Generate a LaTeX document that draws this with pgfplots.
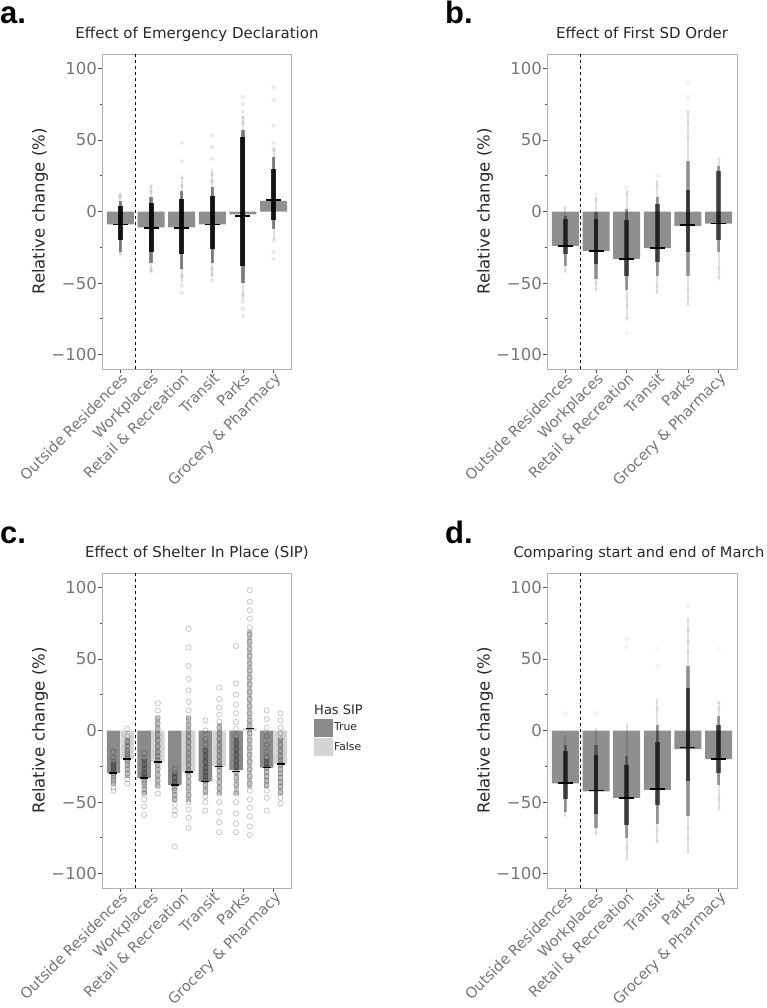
\documentclass[border=0pt]{standalone}
\usepackage{fontspec}
\setmainfont{DejaVu Sans}
\newfontfamily\panelfont{Liberation Sans}
\usepackage{pgfplots}
\pgfplotsset{compat=1.18}
\definecolor{barc}{RGB}{143,143,143}
\definecolor{truec}{RGB}{138,138,138}
\definecolor{falsec}{RGB}{212,212,212}
\definecolor{tickc}{RGB}{118,118,118}
\definecolor{framec}{RGB}{178,178,178}
\definecolor{titlec}{RGB}{40,40,40}

\pgfplotsset{
  panel/.style={
    scale only axis, width=190pt, height=315pt,
    xmin=-0.6, xmax=5.6, ymin=-110, ymax=110,
    axis line style={framec, line width=1pt},
    xtick={0,1,2,3,4,5},
    xticklabels={Outside Residences,Workplaces,Retail \& Recreation,Transit,Parks,Grocery \& Pharmacy},
    x tick label style={rotate=45, anchor=north east, font=\fontsize{14.7}{14.7}\selectfont, text=tickc, inner sep=1pt},
    xticklabel shift=-3pt,
    ytick={-100,-50,0,50,100},
    yticklabels={−100,−50,0,50,100},
    minor ytick={-75,-25,25,75},
    y tick label style={font=\fontsize{16.5}{16.5}\selectfont, text=tickc, inner sep=1pt},
    tick align=outside, tick pos=left,
    major tick length=4pt, minor tick length=2pt,
    tick style={black!70, line width=0.8pt},
    ylabel={Relative change (\%)},
    ylabel style={font=\fontsize{16.5}{16.5}\selectfont, text=titlec, yshift=-1pt},
    title style={font=\fontsize{15}{15}\selectfont, text=titlec, at={(0.5,1)}, anchor=base, yshift=10pt},
    unbounded coords=jump,
  },
  bars/.style={ybar, bar width=0.88, bar shift=0pt, fill=barc, draw=none, forget plot},
  vline/.style={black, dashed, line width=0.8pt, forget plot},
  tail/.style={black, line width=2pt, opacity=0.12, forget plot},
  mid/.style={black, line width=3.5pt, opacity=0.45, forget plot},
  core/.style={black, line width=4.5pt, opacity=0.85, forget plot},
  outl/.style={only marks, mark=*, mark size=2.2pt, black, draw opacity=0, fill opacity=0.08, forget plot},
  meanl/.style={only marks, mark=-, mark size=7.5pt, mark options={line width=1.5pt, black}, forget plot},
  circ/.style={only marks, mark=o, mark size=2.6pt, mark options={line width=0.8pt, draw=black, draw opacity=0.22}, forget plot},
}

\begin{document}
\begin{tikzpicture}
\useasboundingbox (0pt,0pt) rectangle (767pt,-1008pt);

% ---------------- Panel a ----------------
\begin{axis}[panel, at={(102pt,-369pt)}, anchor=south west, title={Effect of Emergency Declaration}]
\addplot[vline] coordinates {(0.5,-110) (0.5,110)};
\addplot[bars] coordinates {(0,-9) (1,-11) (2,-11) (3,-9) (4,-2) (5,7.5)};
\addplot[tail] coordinates {(0,-30) (0,12) (0,nan) (1,-42) (1,18) (1,nan) (2,-50) (2,24) (2,nan) (3,-46) (3,30) (3,nan) (4,-62) (4,66) (4,nan) (5,-20) (5,45)};
\addplot[mid] coordinates {(0,-28) (0,7) (0,nan) (1,-36) (1,10) (1,nan) (2,-40) (2,14) (2,nan) (3,-36) (3,17) (3,nan) (4,-50) (4,57) (4,nan) (5,-12) (5,38)};
\addplot[core, line width=5pt] coordinates {(0,-20) (0,4) (0,nan) (1,-28) (1,6) (1,nan) (2,-30) (2,9) (2,nan) (3,-26) (3,11) (3,nan) (4,-38) (4,52) (4,nan) (5,-6) (5,30)};
\addplot[outl] coordinates {(0,12) (0,10) (0,-30) (1,18) (1,14) (1,-40) (1,-42)
  (2,48) (2,35) (2,24) (2,18) (2,-45) (2,-52) (2,-57)
  (3,53) (3,45) (3,37) (3,26) (3,21) (3,-40) (3,-44) (3,-48)
  (4,80) (4,75) (4,70) (4,66) (4,62) (4,-58) (4,-63) (4,-68) (4,-73)
  (5,87) (5,78) (5,60) (5,48) (5,43) (5,-20) (5,-28) (5,-33)};
\addplot[meanl] coordinates {(0,-9) (1,-11.5) (2,-11.5) (3,-9) (4,-3) (5,8)};
\end{axis}

% ---------------- Panel b ----------------
\begin{axis}[panel, at={(547pt,-369pt)}, anchor=south west, title={Effect of First SD Order}]
\addplot[vline] coordinates {(0.5,-110) (0.5,110)};
\addplot[bars] coordinates {(0,-24) (1,-27.5) (2,-33) (3,-25.5) (4,-10) (5,-8.5)};
\addplot[tail] coordinates {(0,-42) (0,3) (0,nan) (1,-55) (1,10) (1,nan) (2,-75) (2,15) (2,nan) (3,-57) (3,22) (3,nan) (4,-65) (4,70) (4,nan) (5,-47) (5,37)};
\addplot[mid, opacity=0.35] coordinates {(0,-38) (0,-3) (0,nan) (1,-47) (1,0) (1,nan) (2,-55) (2,2) (2,nan) (3,-45) (3,10) (3,nan) (4,-45) (4,35) (4,nan) (5,-28) (5,32)};
\addplot[core, opacity=0.6] coordinates {(0,-30) (0,-5) (0,nan) (1,-37) (1,-5) (1,nan) (2,-45) (2,-6) (2,nan) (3,-35) (3,5) (3,nan) (4,-28) (4,15) (4,nan) (5,-20) (5,28)};
\addplot[outl, fill opacity=0.05] coordinates {(0,-42) (0,3) (1,12) (1,8) (1,-50) (1,-55)
  (2,17) (2,12) (2,-60) (2,-66) (2,-75) (2,-85)
  (3,25) (3,18) (3,-52) (3,-57)
  (4,90) (4,80) (4,70) (4,62) (4,52) (4,-55) (4,-60) (4,-65)
  (5,37) (5,-40) (5,-47)};
\addplot[meanl] coordinates {(0,-24) (1,-27.5) (2,-33) (3,-25.5) (4,-9.5) (5,-8.5)};
\end{axis}

% ---------------- Panel c ----------------
\begin{axis}[panel, at={(102pt,-888pt)}, anchor=south west, title={Effect of Shelter In Place (SIP)},
  clip mode=individual,
  legend style={at={(1.116,0.537)}, anchor=north west, draw=none, fill=none,
    font=\fontsize{10.8}{12}\selectfont, text=titlec, row sep=2pt, inner sep=0pt,
    nodes={inner sep=1.5pt}},
  legend cell align=left]
\addplot[vline] coordinates {(0.5,-110) (0.5,110)};
\addplot[ybar, bar width=0.44, bar shift=0pt, fill=truec, draw=none, forget plot] coordinates {(-0.225,-29.5) (0.775,-33) (1.775,-38) (2.775,-35.5) (3.775,-27.5) (4.775,-26)};
\addplot[ybar, bar width=0.44, bar shift=0pt, fill=falsec, draw=none, forget plot] coordinates {(0.225,-20) (1.225,-22) (2.225,-29) (3.225,-25) (4.225,1.5) (5.225,-23.5)};
\addplot[core, opacity=0.25, line width=5pt] coordinates {(-0.225,-38) (-0.225,-22) (-0.225,nan) (0.225,-33) (0.225,-5) (0.225,nan)
  (0.775,-45) (0.775,-20) (0.775,nan) (1.225,-40) (1.225,10) (1.225,nan)
  (1.775,-50) (1.775,-30) (1.775,nan) (2.225,-50) (2.225,10) (2.225,nan)
  (2.775,-45) (2.775,-12) (2.775,nan) (3.225,-45) (3.225,5) (3.225,nan)
  (3.775,-45) (3.775,-5) (3.775,nan) (4.225,-40) (4.225,70) (4.225,nan)
  (4.775,-40) (4.775,-20) (4.775,nan) (5.225,-45) (5.225,-5)};
\addplot[circ] coordinates {
  (-0.225,-15) (-0.225,-19) (-0.225,-22) (-0.225,-24) (-0.225,-26) (-0.225,-28) (-0.225,-30) (-0.225,-31) (-0.225,-33) (-0.225,-35) (-0.225,-37) (-0.225,-40) (-0.225,-42)
  (0.225,1) (0.225,-4) (0.225,-8) (0.225,-11) (0.225,-14) (0.225,-16) (0.225,-18) (0.225,-20) (0.225,-22) (0.225,-24) (0.225,-27) (0.225,-30) (0.225,-34) (0.225,-37)
  (0.775,-16) (0.775,-20) (0.775,-24) (0.775,-27) (0.775,-30) (0.775,-32) (0.775,-34) (0.775,-36) (0.775,-38) (0.775,-41) (0.775,-44) (0.775,-48) (0.775,-53) (0.775,-59)
  (1.225,19) (1.225,14) (1.225,9) (1.225,5) (1.225,1) (1.225,-3) (1.225,-7) (1.225,-11) (1.225,-15) (1.225,-18) (1.225,-21) (1.225,-24) (1.225,-27) (1.225,-31) (1.225,-35) (1.225,-39) (1.225,-44)
  (1.775,-27) (1.775,-30) (1.775,-33) (1.775,-36) (1.775,-38) (1.775,-40) (1.775,-42) (1.775,-45) (1.775,-48) (1.775,-52) (1.775,-56) (1.775,-59) (1.775,-81)
  (2.225,71) (2.225,58) (2.225,45) (2.225,36) (2.225,28) (2.225,20) (2.225,14) (2.225,9) (2.225,4) (2.225,0) (2.225,-4) (2.225,-8) (2.225,-12) (2.225,-16) (2.225,-20) (2.225,-24) (2.225,-28) (2.225,-32) (2.225,-36) (2.225,-40) (2.225,-45) (2.225,-50) (2.225,-55) (2.225,-61) (2.225,-68)
  (2.775,7) (2.775,0) (2.775,-6) (2.775,-10) (2.775,-14) (2.775,-18) (2.775,-22) (2.775,-26) (2.775,-29) (2.775,-32) (2.775,-35) (2.775,-38) (2.775,-42) (2.775,-46) (2.775,-50) (2.775,-56)
  (3.225,30) (3.225,22) (3.225,16) (3.225,11) (3.225,6) (3.225,2) (3.225,-2) (3.225,-6) (3.225,-10) (3.225,-14) (3.225,-18) (3.225,-22) (3.225,-25) (3.225,-28) (3.225,-32) (3.225,-36) (3.225,-40) (3.225,-44) (3.225,-50) (3.225,-57) (3.225,-64) (3.225,-71)
  (3.775,59) (3.775,33) (3.775,25) (3.775,18) (3.775,12) (3.775,6) (3.775,1) (3.775,-4) (3.775,-9) (3.775,-13) (3.775,-17) (3.775,-21) (3.775,-25) (3.775,-29) (3.775,-33) (3.775,-38) (3.775,-44) (3.775,-50) (3.775,-58) (3.775,-65) (3.775,-71)
  (4.225,98) (4.225,90) (4.225,84) (4.225,78) (4.225,72) (4.225,67) (4.225,62) (4.225,57) (4.225,52) (4.225,47) (4.225,42) (4.225,37) (4.225,32) (4.225,27) (4.225,22) (4.225,17) (4.225,12) (4.225,7) (4.225,3) (4.225,-2) (4.225,-7) (4.225,-12) (4.225,-17) (4.225,-22) (4.225,-27) (4.225,-32) (4.225,-37) (4.225,-42) (4.225,-48) (4.225,-54) (4.225,-60) (4.225,-67) (4.225,-73)
  (4.775,14) (4.775,8) (4.775,2) (4.775,-4) (4.775,-10) (4.775,-15) (4.775,-19) (4.775,-23) (4.775,-26) (4.775,-29) (4.775,-32) (4.775,-35) (4.775,-38) (4.775,-42) (4.775,-47) (4.775,-56)
  (5.225,12) (5.225,7) (5.225,2) (5.225,-2) (5.225,-6) (5.225,-10) (5.225,-14) (5.225,-18) (5.225,-21) (5.225,-24) (5.225,-27) (5.225,-30) (5.225,-33) (5.225,-36) (5.225,-39) (5.225,-43) (5.225,-47) (5.225,-51)};
\addplot[meanl, mark size=4pt] coordinates {(-0.225,-29.5) (0.225,-20) (0.775,-33) (1.225,-22) (1.775,-38) (2.225,-29) (2.775,-35.5) (3.225,-25) (3.775,-28.5) (4.225,1.5) (4.775,-26) (5.225,-23.5)};
\addlegendimage{legend image code/.code={\fill[truec] (0pt,-8.5pt) rectangle (18pt,8.5pt);}}
\addlegendentry{True}
\addlegendimage{legend image code/.code={\fill[falsec] (0pt,-8.5pt) rectangle (18pt,8.5pt);}}
\addlegendentry{False}
\node[anchor=base west, inner sep=0pt, font=\fontsize{13}{13}\selectfont, text=titlec] at (rel axis cs:1.116,0.552) {Has SIP};
\end{axis}

% ---------------- Panel d ----------------
\begin{axis}[panel, at={(547pt,-888pt)}, anchor=south west, title={Comparing start and end of March},
  title style={font=\fontsize{14.6}{14.6}\selectfont, xshift=-3pt}]
\addplot[vline] coordinates {(0.5,-110) (0.5,110)};
\addplot[bars] coordinates {(0,-37) (1,-42.5) (2,-47) (3,-41.5) (4,-13) (5,-20)};
\addplot[tail] coordinates {(0,-60) (0,-3) (0,nan) (1,-72) (1,2) (1,nan) (2,-90) (2,5) (2,nan) (3,-78) (3,22) (3,nan) (4,-85) (4,78) (4,nan) (5,-55) (5,20)};
\addplot[mid, opacity=0.35] coordinates {(0,-57) (0,-10) (0,nan) (1,-68) (1,-10) (1,nan) (2,-75) (2,-18) (2,nan) (3,-65) (3,4) (3,nan) (4,-60) (4,45) (4,nan) (5,-38) (5,10)};
\addplot[core, opacity=0.6] coordinates {(0,-48) (0,-14) (0,nan) (1,-58) (1,-17) (1,nan) (2,-66) (2,-24) (2,nan) (3,-52) (3,-8) (3,nan) (4,-35) (4,30) (4,nan) (5,-30) (5,4)};
\addplot[outl, fill opacity=0.05] coordinates {(0,-60) (0,12) (1,12) (1,-72)
  (2,64) (2,58) (2,-82) (2,-90)
  (3,57) (3,45) (3,15) (3,-70) (3,-78)
  (4,87) (4,78) (4,70) (4,62) (4,55) (4,-68) (4,-75) (4,-85)
  (5,57) (5,20) (5,15) (5,-48) (5,-55)};
\addplot[meanl] coordinates {(0,-36.5) (1,-42) (2,-47) (3,-41) (4,-12) (5,-20)};
\end{axis}

% panel letters
\node[anchor=base west, inner sep=0pt, font=\panelfont\bfseries\fontsize{31}{31}\selectfont] at (0pt,-24pt) {a.};
\node[anchor=base west, inner sep=0pt, font=\panelfont\bfseries\fontsize{31}{31}\selectfont] at (445pt,-24pt) {b.};
\node[anchor=base west, inner sep=0pt, font=\panelfont\bfseries\fontsize{31}{31}\selectfont] at (0pt,-543pt) {c.};
\node[anchor=base west, inner sep=0pt, font=\panelfont\bfseries\fontsize{31}{31}\selectfont] at (445pt,-543pt) {d.};
\end{tikzpicture}
\end{document}
